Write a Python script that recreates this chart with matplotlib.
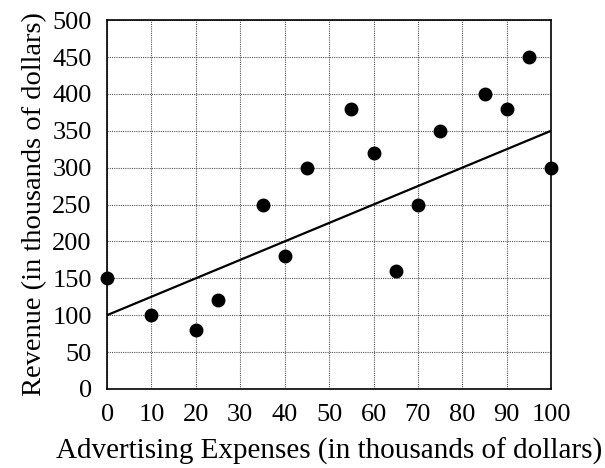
import matplotlib
matplotlib.use("Agg")
import matplotlib.pyplot as plt

plt.rcParams['font.family'] = ['Liberation Serif', 'DejaVu Serif']

# scatter data (thousands of dollars)
expenses = [0, 10, 20, 25, 35, 40, 45, 55, 60, 65, 70, 75, 85, 90, 95, 100]
revenue = [150, 100, 80, 120, 250, 180, 300, 380, 320, 160, 250, 350, 400, 380, 450, 300]

# trend line endpoints
line_x = [0, 100]
line_y = [100, 350]

fig = plt.figure(figsize=(6.05, 4.68), dpi=100)
ax = fig.add_axes([0.177, 0.169, 0.734, 0.788])

ax.plot(line_x, line_y, color='black', lw=1.6, zorder=3)
ax.plot(expenses, revenue, 'o', color='black', ms=9, zorder=4, clip_on=False)

ax.set_xlim(0, 100)
ax.set_ylim(0, 500)
ax.set_xticks(range(0, 101, 10))
ax.set_yticks(range(0, 501, 50))
ax.grid(True, color='#555555', linestyle=(0, (1, 1)), lw=0.8)
ax.tick_params(length=0, labelsize=19)
ax.tick_params(axis='y', pad=11)
ax.tick_params(axis='x', pad=11)
for s in ax.spines.values():
    s.set_linewidth(1.2)

ax.set_xlabel('Advertising Expenses (in thousands of dollars)', fontsize=21, labelpad=8)
ax.set_ylabel('Revenue (in thousands of dollars)', fontsize=20.5, labelpad=4)

fig.savefig('out.png', dpi=100)
